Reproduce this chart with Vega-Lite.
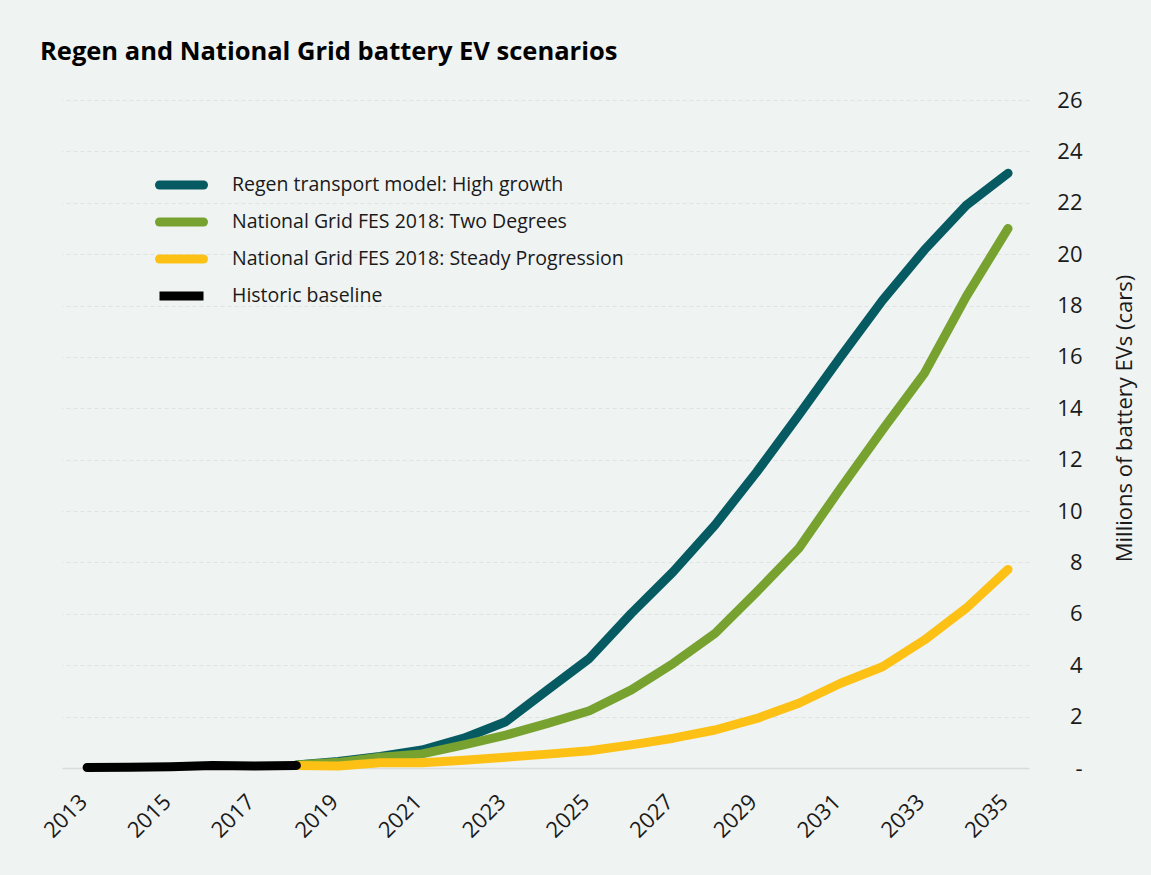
{
  "$schema": "https://vega.github.io/schema/vega-lite/v6.json",
  "width": 967,
  "height": 668,
  "autosize": "none",
  "padding": {"left": 62, "top": 100, "right": 122, "bottom": 107},
  "background": "#eff3f2",
  "title": {
    "text": "Regen and National Grid battery EV scenarios",
    "anchor": "start",
    "frame": "group",
    "font": "Open Sans",
    "fontSize": 25.5,
    "fontWeight": "bold",
    "color": "#000000",
    "baseline": "alphabetic",
    "offset": 4,
    "dx": -22
  },
  "config": {
    "view": {"stroke": null},
    "axis": {"labelFont": "Open Sans", "titleFont": "Open Sans", "labelColor": "#1a1a1a", "titleColor": "#1a1a1a"}
  },
  "data": {
    "values": [
      {"year": 2018, "series": "Regen transport model: High growth", "value": 0.12},
      {"year": 2019, "series": "Regen transport model: High growth", "value": 0.25},
      {"year": 2020, "series": "Regen transport model: High growth", "value": 0.45},
      {"year": 2021, "series": "Regen transport model: High growth", "value": 0.7},
      {"year": 2022, "series": "Regen transport model: High growth", "value": 1.16},
      {"year": 2023, "series": "Regen transport model: High growth", "value": 1.8},
      {"year": 2024, "series": "Regen transport model: High growth", "value": 3.04},
      {"year": 2025, "series": "Regen transport model: High growth", "value": 4.27},
      {"year": 2026, "series": "Regen transport model: High growth", "value": 6.02},
      {"year": 2027, "series": "Regen transport model: High growth", "value": 7.64},
      {"year": 2028, "series": "Regen transport model: High growth", "value": 9.46},
      {"year": 2029, "series": "Regen transport model: High growth", "value": 11.53},
      {"year": 2030, "series": "Regen transport model: High growth", "value": 13.74},
      {"year": 2031, "series": "Regen transport model: High growth", "value": 16.0},
      {"year": 2032, "series": "Regen transport model: High growth", "value": 18.2},
      {"year": 2033, "series": "Regen transport model: High growth", "value": 20.16},
      {"year": 2034, "series": "Regen transport model: High growth", "value": 21.9},
      {"year": 2035, "series": "Regen transport model: High growth", "value": 23.15},
      {"year": 2018, "series": "National Grid FES 2018: Two Degrees", "value": 0.12},
      {"year": 2019, "series": "National Grid FES 2018: Two Degrees", "value": 0.22},
      {"year": 2020, "series": "National Grid FES 2018: Two Degrees", "value": 0.42},
      {"year": 2021, "series": "National Grid FES 2018: Two Degrees", "value": 0.55},
      {"year": 2022, "series": "National Grid FES 2018: Two Degrees", "value": 0.9},
      {"year": 2023, "series": "National Grid FES 2018: Two Degrees", "value": 1.28},
      {"year": 2024, "series": "National Grid FES 2018: Two Degrees", "value": 1.74},
      {"year": 2025, "series": "National Grid FES 2018: Two Degrees", "value": 2.23},
      {"year": 2026, "series": "National Grid FES 2018: Two Degrees", "value": 3.04},
      {"year": 2027, "series": "National Grid FES 2018: Two Degrees", "value": 4.07},
      {"year": 2028, "series": "National Grid FES 2018: Two Degrees", "value": 5.24},
      {"year": 2029, "series": "National Grid FES 2018: Two Degrees", "value": 6.86},
      {"year": 2030, "series": "National Grid FES 2018: Two Degrees", "value": 8.55},
      {"year": 2031, "series": "National Grid FES 2018: Two Degrees", "value": 10.89},
      {"year": 2032, "series": "National Grid FES 2018: Two Degrees", "value": 13.16},
      {"year": 2033, "series": "National Grid FES 2018: Two Degrees", "value": 15.36},
      {"year": 2034, "series": "National Grid FES 2018: Two Degrees", "value": 18.35},
      {"year": 2035, "series": "National Grid FES 2018: Two Degrees", "value": 21.0},
      {"year": 2018, "series": "National Grid FES 2018: Steady Progression", "value": 0.1},
      {"year": 2019, "series": "National Grid FES 2018: Steady Progression", "value": 0.08},
      {"year": 2020, "series": "National Grid FES 2018: Steady Progression", "value": 0.2},
      {"year": 2021, "series": "National Grid FES 2018: Steady Progression", "value": 0.2},
      {"year": 2022, "series": "National Grid FES 2018: Steady Progression", "value": 0.3},
      {"year": 2023, "series": "National Grid FES 2018: Steady Progression", "value": 0.42},
      {"year": 2024, "series": "National Grid FES 2018: Steady Progression", "value": 0.54},
      {"year": 2025, "series": "National Grid FES 2018: Steady Progression", "value": 0.67},
      {"year": 2026, "series": "National Grid FES 2018: Steady Progression", "value": 0.9},
      {"year": 2027, "series": "National Grid FES 2018: Steady Progression", "value": 1.16},
      {"year": 2028, "series": "National Grid FES 2018: Steady Progression", "value": 1.48},
      {"year": 2029, "series": "National Grid FES 2018: Steady Progression", "value": 1.93},
      {"year": 2030, "series": "National Grid FES 2018: Steady Progression", "value": 2.52},
      {"year": 2031, "series": "National Grid FES 2018: Steady Progression", "value": 3.3},
      {"year": 2032, "series": "National Grid FES 2018: Steady Progression", "value": 3.94},
      {"year": 2033, "series": "National Grid FES 2018: Steady Progression", "value": 4.98},
      {"year": 2034, "series": "National Grid FES 2018: Steady Progression", "value": 6.22},
      {"year": 2035, "series": "National Grid FES 2018: Steady Progression", "value": 7.73},
      {"year": 2013, "series": "Historic baseline", "value": 0.02},
      {"year": 2014, "series": "Historic baseline", "value": 0.03},
      {"year": 2015, "series": "Historic baseline", "value": 0.05},
      {"year": 2016, "series": "Historic baseline", "value": 0.1},
      {"year": 2017, "series": "Historic baseline", "value": 0.08},
      {"year": 2018, "series": "Historic baseline", "value": 0.1}
    ]
  },
  "mark": {"type": "line", "strokeWidth": 9, "strokeCap": "round", "strokeJoin": "round", "clip": false},
  "encoding": {
    "x": {
      "field": "year",
      "type": "quantitative",
      "scale": {"domain": [2012.4, 2035.5], "nice": false, "zero": false},
      "axis": {
        "title": null,
        "values": [2013, 2015, 2017, 2019, 2021, 2023, 2025, 2027, 2029, 2031, 2033, 2035],
        "format": "d",
        "grid": false,
        "domain": false,
        "ticks": false,
        "labelAngle": -45,
        "labelAlign": "right",
        "labelBaseline": "middle",
        "labelPadding": 30,
        "labelOffset": -4,
        "labelFontSize": 22
      }
    },
    "y": {
      "field": "value",
      "type": "quantitative",
      "scale": {"domain": [0, 26], "nice": false},
      "axis": {
        "orient": "right",
        "title": "Millions of battery EVs (cars)",
        "titleFontSize": 22,
        "titleFontWeight": "normal",
        "titleAngle": 270,
        "titleAlign": "center",
        "titleBaseline": "middle",
        "titleX": 95,
        "titleY": 318,
        "values": [0, 2, 4, 6, 8, 10, 12, 14, 16, 18, 20, 22, 24, 26],
        "labelExpr": "datum.value == 0 ? '-\u00a0\u00a0' : datum.label",
        "labelAlign": "right",
        "labelPadding": 53,
        "labelFontSize": 22,
        "ticks": false,
        "domain": false,
        "grid": true,
        "gridColor": {"condition": {"test": "datum.value == 0", "value": "#d9dcdb"}, "value": "#dfe3e2"},
        "gridWidth": {"condition": {"test": "datum.value == 0", "value": 1.5}, "value": 1},
        "gridDash": {"condition": {"test": "datum.value == 0", "value": []}, "value": [4, 3]}
      }
    },
    "color": {
      "field": "series",
      "type": "nominal",
      "sort": null,
      "scale": {
        "domain": ["Regen transport model: High growth", "National Grid FES 2018: Two Degrees", "National Grid FES 2018: Steady Progression", "Historic baseline"],
        "range": ["#065a62", "#78a22f", "#fdc116", "#000000"]
      },
      "legend": {
        "orient": "none",
        "legendX": 107,
        "legendY": 72.5,
        "title": null,
        "padding": 0,
        "symbolType": "M-2.75,0L2.75,0",
        "symbolStrokeWidth": 9,
        "symbolSize": 256,
        "labelFont": "Open Sans",
        "labelFontSize": 19.5,
        "labelColor": "#1a1a1a",
        "labelLimit": 0,
        "labelOffset": 38,
        "rowPadding": 0,
        "encode": {"symbols": {"update": {"fill": {"value": "transparent"}, "strokeCap": {"signal": "datum.label == 'Historic baseline' ? 'butt' : 'round'"}}}}
      }
    }
  }
}
